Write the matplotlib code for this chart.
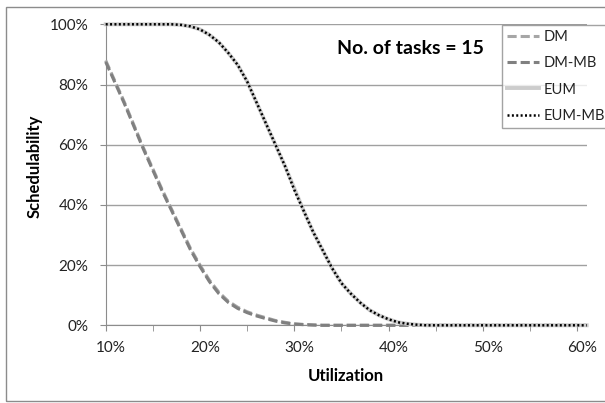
import numpy as np
import matplotlib
matplotlib.use("Agg")
import matplotlib.pyplot as plt
from matplotlib.patches import Rectangle
from matplotlib.transforms import ScaledTranslation
from matplotlib.ticker import FuncFormatter, MultipleLocator

plt.rcParams['font.family'] = ['Lato', 'DejaVu Sans']

# utilization in percent, one category per 1%
util = np.arange(10, 62)

# schedulability (%)
dm = [88, 81, 74, 66.5, 59, 52, 45, 38.5, 32, 25.5,
      20, 15, 11, 8, 6, 4.5, 3.4, 2.5, 1.6, 1,
      0.5, 0.3, 0.1] + [0] * 29
dm_mb = [87.5, 80.5, 73.5, 66, 58.5, 51.5, 44.5, 38, 31.5, 25,
         19.5, 14.5, 10.5, 7.6, 5.6, 4.2, 3.1, 2.2, 1.4, 0.8,
         0.4, 0.2, 0.1] + [0] * 29
eum = [100] * 8 + [99.8, 99.3, 98.3, 96.5, 94, 90.5, 86.5, 81,
       74, 67, 60, 53, 45.5, 38, 31, 25, 19, 14,
       10.5, 7.5, 5, 3.3, 2, 1, 0.5, 0.2] + [0] * 18
eum_mb = [100] * 8 + [99.8, 99.3, 98.3, 96.5, 94, 90.5, 86.5, 81,
          74, 67, 60, 53, 45, 38, 31, 25, 19, 14,
          10.5, 7.5, 5, 3.3, 2, 1, 0.5, 0.2] + [0] * 18

fig = plt.figure(figsize=(6.05, 4.03), dpi=100)
ax = fig.add_axes([0.1747, 0.1928, 0.795, 0.7469])

# outer chart border
fig.patches.append(Rectangle((6 / 605, 2 / 403), 0.999, 1 - 9 / 403,
                             transform=fig.transFigure, fill=False,
                             edgecolor='#8c8c8c', lw=1.0))

ax.plot(util, dm, color='#a6a6a6', lw=2.2, dashes=(3, 1.3), label='DM', clip_on=False, zorder=3)
ax.plot(util, dm_mb, color='#808080', lw=2.2, dashes=(3, 1.3), label='DM-MB', clip_on=False, zorder=4)
ax.plot(util, eum, color='#cccccc', lw=2.8, label='EUM', clip_on=False, zorder=5)
ax.plot(util, eum_mb, color='black', lw=1.8, dashes=(0.8, 0.95), label='EUM-MB', clip_on=False, zorder=6)

ax.set_xlim(10, 61)
ax.set_ylim(0, 100)
ax.xaxis.set_major_locator(MultipleLocator(10))
ax.xaxis.set_minor_locator(MultipleLocator(5))
ax.yaxis.set_major_locator(MultipleLocator(20))
pct = FuncFormatter(lambda v, p: '%d%%' % v)
ax.xaxis.set_major_formatter(pct)
ax.yaxis.set_major_formatter(pct)

ax.grid(True, axis='y', color='#a0a0a0', lw=1.0)
ax.set_axisbelow(True)
for s in ['top', 'right']:
    ax.spines[s].set_visible(False)
for s in ['left', 'bottom']:
    ax.spines[s].set_color('#8c8c8c')
ax.tick_params(axis='both', which='both', direction='out', length=4.5,
               color='#8c8c8c', labelsize=11, labelcolor='#222222')
ax.tick_params(axis='y', pad=8)
ax.tick_params(axis='x', pad=7)
for lab in ax.get_xticklabels():
    lab.set_transform(lab.get_transform() + ScaledTranslation(0.05, 0, fig.dpi_scale_trans))

fig.text(346 / 605, 1 - 376 / 403, 'Utilization', ha='center', va='center',
         fontsize=12, fontweight='bold')
fig.text(35 / 605, 1 - 166 / 403, 'Schedulability', ha='center', va='center',
         rotation=90, fontsize=12, fontweight='bold')
fig.text(410 / 605, 1 - 49 / 403, 'No. of tasks = 15', ha='center', va='center',
         fontsize=14, fontweight='bold')

leg = fig.legend(loc='upper left', bbox_to_anchor=(501.7 / 605, 1 - 24.7 / 403),
                 borderaxespad=0, fontsize=10.5, frameon=True, fancybox=False,
                 handlelength=2.2, handletextpad=0.3, labelspacing=0.85,
                 borderpad=0.35)
leg.get_frame().set_edgecolor('#8c8c8c')
leg.get_frame().set_linewidth(1.0)
for t in leg.get_texts():
    t.set_color('#222222')

fig.savefig('out.png', dpi=100)
